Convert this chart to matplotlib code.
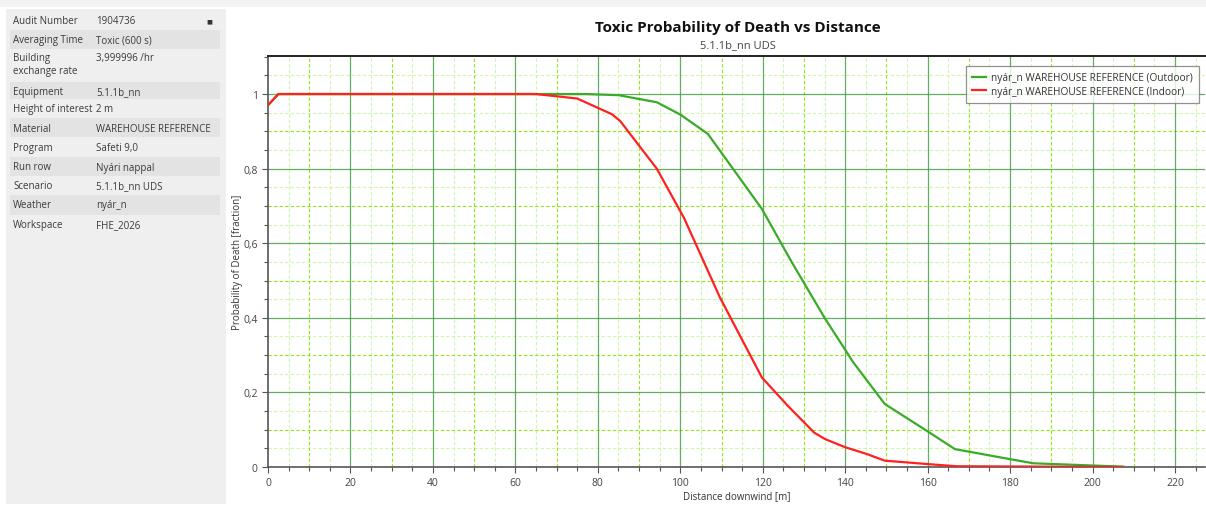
import matplotlib
matplotlib.use("Agg")
import matplotlib.pyplot as plt
from matplotlib.patches import Rectangle
from matplotlib.ticker import MultipleLocator, FuncFormatter

plt.rcParams['font.family'] = ['Open Sans', 'DejaVu Sans']

# ---- data ----
outdoor_x = [0, 2.5, 20, 40, 60, 70, 77, 85, 94.3, 100, 106.7, 119.8, 127, 135, 142, 149.6, 159.8, 166.6, 180, 185.6, 200, 207.4]
outdoor_y = [0.97, 1.0, 1.0, 1.0, 1.0, 1.0, 1.0, 0.997, 0.978, 0.945, 0.893, 0.692, 0.55, 0.40, 0.28, 0.169, 0.097, 0.048, 0.021, 0.010, 0.004, 0.001]
indoor_x = [0, 2.5, 20, 40, 60, 65, 75, 83.4, 85.4, 94.3, 100.9, 109.6, 119.8, 126, 132.5, 135.1, 140, 145.2, 149.6, 159.8, 167, 207.4]
indoor_y = [0.97, 1.0, 1.0, 1.0, 1.0, 1.0, 0.988, 0.946, 0.928, 0.80, 0.668, 0.455, 0.24, 0.165, 0.092, 0.075, 0.053, 0.035, 0.017, 0.008, 0.002, 0.0]

info_keys = ["Audit Number", "Averaging Time", "Building\nexchange rate", "Equipment",
             "Height of interest", "Material", "Program", "Run row", "Scenario",
             "Weather", "Workspace"]
info_vals = ["1904736", "Toxic (600 s)", "3,999996 /hr", "5.1.1b_nn", "2 m",
             "WAREHOUSE REFERENCE", "Safeti 9,0", "Nyári nappal", "5.1.1b_nn UDS",
             "nyár_n", "FHE_2026"]

title = "Toxic Probability of Death vs Distance"
subtitle = "5.1.1b_nn UDS"
legend_labels = ["nyár_n WAREHOUSE REFERENCE (Outdoor)", "nyár_n WAREHOUSE REFERENCE (Indoor)"]

W, H = 1206, 506
fig = plt.figure(figsize=(W / 100, H / 100), dpi=100)
fig.patch.set_facecolor('white')

def fx(px):
    return px / W

def fy(py):
    return 1 - py / H

# top grey strip
fig.patches.append(Rectangle((0, fy(8)), 1, 8 / H, transform=fig.transFigure,
                             facecolor='#f2f2f2', edgecolor='none', zorder=0))
# left panel
fig.patches.append(Rectangle((fx(6), fy(505)), (226 - 6) / W, (505 - 10) / H,
                             transform=fig.transFigure, facecolor='#efefef',
                             edgecolor='none', zorder=0))

row_tops = [11, 31, 50, 83, 100, 119, 138, 158, 177, 196, 216]
row_bots = [31, 50, 83, 100, 119, 138, 158, 177, 196, 216, 235]
for i, (k, v) in enumerate(zip(info_keys, info_vals)):
    t, b = row_tops[i], row_bots[i]
    if i % 2 == 1:
        fig.patches.append(Rectangle((fx(10), fy(b)), (220 - 10) / W, (b - t) / H,
                                     transform=fig.transFigure, facecolor='#e3e3e3',
                                     edgecolor='none', zorder=0.5))
    if '\n' in k:
        fig.text(fx(13), fy(t + 3), k, fontsize=7, color='#3a3a3a', va='top',
                 ha='left', linespacing=1.3)
        fig.text(fx(96), fy(t + 3), v, fontsize=7, color='#3a3a3a', va='top', ha='left')
    else:
        fig.text(fx(13), fy(t + 10), k, fontsize=7, color='#3a3a3a', va='center', ha='left')
        fig.text(fx(96), fy(t + 10), v, fontsize=7, color='#3a3a3a', va='center', ha='left')

# small close icon
fig.text(fx(209), fy(22), "■", fontsize=4.5, color='#333333', ha='center', va='center',
         family=['DejaVu Sans'])

# ---- chart ----
ax_left, ax_right, ax_top, ax_bot = 268, 1205, 57, 468
ax = fig.add_axes([fx(ax_left), fy(ax_bot), (ax_right - ax_left) / W, (ax_bot - ax_top) / H])
ax.set_facecolor('white')

xmax = (ax_right - ax_left) / (907 / 220)
ax.set_xlim(0, xmax)
ax.set_ylim(0, 1.102)

# grid lines
for xv in range(5, int(xmax) + 1, 5):
    if xv % 20 == 0:
        ax.axvline(xv, color='#3f9a3f', lw=0.9, alpha=0.8, zorder=1)
    elif xv % 10 == 0:
        ax.axvline(xv, color='#8ee81a', lw=0.8, ls=(0, (3, 2)), zorder=0.9)
    else:
        ax.axvline(xv, color='#cff7a8', lw=0.8, ls=(0, (3, 2)), zorder=0.8)
for j in range(1, 22):
    yv = j * 0.05
    if j % 4 == 0:
        ax.axhline(yv, color='#3f9a3f', lw=0.9, alpha=0.8, zorder=1)
    elif j % 2 == 0:
        ax.axhline(yv, color='#8ee81a', lw=0.8, ls=(0, (3, 2)), zorder=0.9)
    else:
        ax.axhline(yv, color='#cff7a8', lw=0.8, ls=(0, (3, 2)), zorder=0.8)

l1, = ax.plot(outdoor_x, outdoor_y, color='#3aaa2a', lw=1.6, zorder=3, label=legend_labels[0])
l2, = ax.plot(indoor_x, indoor_y, color='#ff2020', lw=1.6, zorder=4, label=legend_labels[1])

ax.xaxis.set_major_locator(MultipleLocator(20))
ax.xaxis.set_minor_locator(MultipleLocator(5))
ax.yaxis.set_major_locator(MultipleLocator(0.2))
ax.yaxis.set_minor_locator(MultipleLocator(0.05))

def yfmt(v, pos):
    if abs(v - round(v)) < 1e-9:
        return "%d" % round(v)
    return ("%.1f" % v).replace('.', ',')

ax.yaxis.set_major_formatter(FuncFormatter(yfmt))
ax.tick_params(axis='both', which='major', labelsize=7.5, labelcolor='#444444',
               color='#555555', length=4, width=0.8, direction='out')
ax.tick_params(axis='both', which='minor', color='#555555', length=3, width=0.8, direction='out')
ax.tick_params(axis='x', pad=3)

for s in ['left', 'bottom']:
    ax.spines[s].set_color('#555555')
    ax.spines[s].set_linewidth(1.2)
ax.spines['top'].set_color('#222222')
ax.spines['top'].set_linewidth(1.4)
ax.spines['right'].set_visible(False)

ax.set_xlabel("Distance downwind [m]", fontsize=7, color='#333333', labelpad=2)
ax.set_ylabel("Probability of Death [fraction]", fontsize=7, color='#333333')
ax.yaxis.set_label_coords((243 - ax_left) / (ax_right - ax_left), 0.5)

leg = ax.legend(handles=[l1, l2], loc='upper right', bbox_to_anchor=(0.999, 0.987),
                fontsize=7.3, frameon=True, fancybox=False, handlelength=1.4,
                borderpad=0.6, labelspacing=0.25, handletextpad=0.5)
leg.get_frame().set_edgecolor('#777777')
leg.get_frame().set_linewidth(0.9)
for t in leg.get_texts():
    t.set_color('#333333')

fig.text(fx(738), fy(28), title, fontsize=11, fontweight='bold', ha='center', va='center',
         color='#111111')
fig.text(fx(738), fy(46), subtitle, fontsize=8, ha='center', va='center', color='#444444')

fig.savefig("out.png", dpi=100, facecolor='white')
